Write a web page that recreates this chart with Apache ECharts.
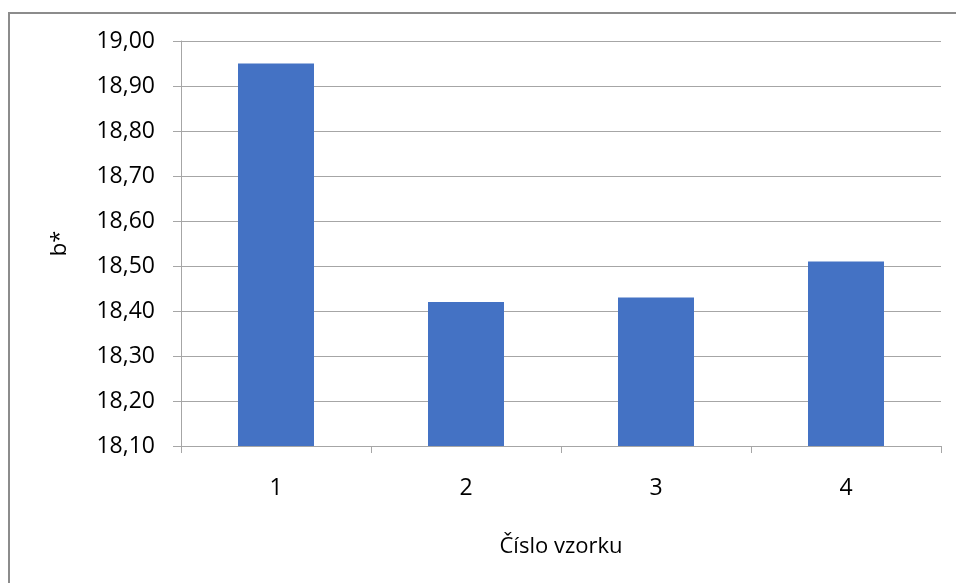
<!DOCTYPE html>
<html>
<head>
<meta charset="utf-8">
<script src="https://cdn.jsdelivr.net/npm/echarts@6/dist/echarts.min.js"></script>
<style>
  html, body { margin: 0; padding: 0; background: #fff; }
  #chart { width: 956px; height: 583px; }
</style>
</head>
<body>
<div id="chart"></div>
<script>
// Sample numbers and their mean b* values
const categories = ['1', '2', '3', '4'];
const bValues = [18.95, 18.42, 18.43, 18.51];
const xTitle = 'Číslo vzorku';
const yTitle = 'b*';

const FONT = '"Open Sans", "Noto Sans", sans-serif';
const chart = echarts.init(document.getElementById('chart'), null, { renderer: 'canvas' });

chart.setOption({
  animation: false,
  backgroundColor: '#ffffff',
  graphic: [{
    type: 'rect',
    shape: { x: 9, y: 13, width: 980, height: 620 },
    style: { fill: 'none', stroke: '#8c8c8c', lineWidth: 2 },
    silent: true
  }],
  grid: { left: 181, right: 15, top: 41, bottom: 137, containLabel: false },
  xAxis: {
    type: 'category',
    data: categories,
    name: xTitle,
    nameLocation: 'middle',
    nameGap: 90,
    nameTextStyle: { fontFamily: FONT, fontSize: 22, color: '#000' },
    axisLine: { show: true, lineStyle: { color: '#a6a6a6', width: 1 } },
    axisTick: { show: true, length: 7, alignWithLabel: false, lineStyle: { color: '#a6a6a6' } },
    axisLabel: { fontFamily: FONT, fontSize: 23, color: '#000', margin: 31 }
  },
  yAxis: {
    type: 'value',
    min: 18.10,
    max: 19.00,
    interval: 0.10,
    name: yTitle,
    nameLocation: 'middle',
    nameGap: 110,
    nameRotate: 90,
    nameTextStyle: { fontFamily: FONT, fontSize: 22, color: '#000' },
    axisLine: { show: true, lineStyle: { color: '#a6a6a6', width: 1 } },
    axisTick: { show: true, length: 8, inside: false, lineStyle: { color: '#a6a6a6' } },
    splitLine: { show: true, lineStyle: { color: '#a6a6a6', width: 1 } },
    axisLabel: {
      fontFamily: FONT, fontSize: 23, color: '#000', margin: 26,
      formatter: v => v.toFixed(2).replace('.', ',')
    }
  },
  series: [{
    type: 'bar',
    data: bValues,
    barWidth: '40%',
    itemStyle: { color: '#4472c4' }
  }]
});
</script>
</body>
</html>
